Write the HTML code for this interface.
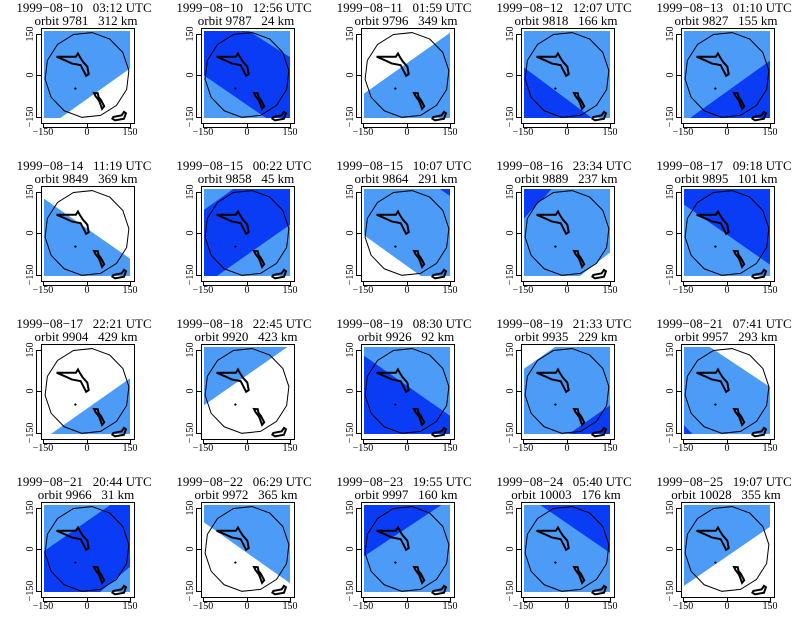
<!DOCTYPE html>
<html><head><meta charset="utf-8"><style>
html,body{margin:0;padding:0;background:#fff;}
svg text{font-family:"Liberation Serif",serif;fill:#000;white-space:pre;}
.t{font-size:13px;}
.k{font-size:10px;}
</style></head><body>
<svg width="800" height="627" viewBox="0 0 800 627" xmlns="http://www.w3.org/2000/svg">
<defs>
<g id="map">
<polygon points="56,1.8 76.5,9.3 91.7,24.8 98.7,45.5 96.1,67.2 84.3,85.5 65.7,97 44,99.2 23.5,91.7 8.3,76.2 1.3,55.5 3.9,33.8 15.7,15.5 34.3,4" fill="none" stroke="#000" stroke-width="1" vector-effect="non-scaling-stroke"/>
<polygon points="14.7,29.6 37,29.6 39.5,25.8 41.5,29.5 45,35 50.4,41 52,49.6 49,51.5 42.6,39.2 32.2,37.3 24,33.5" fill="none" stroke="#000" stroke-width="2" vector-effect="non-scaling-stroke"/>
<polygon points="58.1,71.2 62.5,71.5 63.5,76 66,79 70,86.5 67.5,89.5 65.5,84 64,80 60,75" fill="none" stroke="#000" stroke-width="2" vector-effect="non-scaling-stroke"/>
<polygon points="80.6,98.8 90.3,96.9 93,93 95.3,94.6 93,100.8 82.6,102.7 79.5,100.8" fill="none" stroke="#000" stroke-width="2" vector-effect="non-scaling-stroke"/>
<path d="M35,66.2 H38 M36.4,64.8 V67.6" stroke="#000" stroke-width="1" vector-effect="non-scaling-stroke"/>
</g>
<g id="ax">
<rect x="41.5" y="28.5" width="93" height="95" fill="none" stroke="#000" stroke-width="1"/>
<path d="M43.5,123 V128 M87.5,123 V128 M130.5,123 V128 M43.5,127.5 H130.5 M41,34.5 H36 M41,75.5 H36 M41,117.5 H36 M36.5,34.5 V117.5" stroke="#000" stroke-width="1" fill="none"/>
<text class="k" x="43" y="135" text-anchor="middle">−150</text>
<text class="k" x="87" y="135" text-anchor="middle">0</text>
<text class="k" x="130" y="135" text-anchor="middle">150</text>
<text class="k" transform="translate(33,34) rotate(-90)" text-anchor="middle">150</text>
<text class="k" transform="translate(33,75) rotate(-90)" text-anchor="middle">0</text>
<text class="k" transform="translate(33,117) rotate(-90)" text-anchor="middle">−150</text>
</g>
</defs>
<style>.L{fill:#4b9bf7}.D{fill:#0a3cf5}.W{fill:#fff}</style>

<!-- Row 1 -->
<g transform="translate(0,0)"><text class="t" x="84" y="12" text-anchor="middle">1999−08−10   03:12 UTC</text><text class="t" x="86" y="25" text-anchor="middle">orbit 9781   312 km</text>
<svg x="44" y="31" width="86" height="87" viewBox="0 0 100 100" preserveAspectRatio="none" overflow="visible"><rect class="L" width="100" height="100"/><polygon class="W" points="19,100 100,43 100,100"/><use href="#map"/></svg><use href="#ax"/></g>
<g transform="translate(160,0)"><text class="t" x="84" y="12" text-anchor="middle">1999−08−10   12:56 UTC</text><text class="t" x="86" y="25" text-anchor="middle">orbit 9787   24 km</text>
<svg x="44" y="31" width="86" height="87" viewBox="0 0 100 100" preserveAspectRatio="none" overflow="visible"><rect class="D" width="100" height="100"/><polygon class="L" points="52,0 100,0 100,30"/><polygon class="L" points="0,51 72,100 0,100"/><use href="#map"/></svg><use href="#ax"/></g>
<g transform="translate(320,0)"><text class="t" x="84" y="12" text-anchor="middle">1999−08−11   01:59 UTC</text><text class="t" x="86" y="25" text-anchor="middle">orbit 9796   349 km</text>
<svg x="44" y="31" width="86" height="87" viewBox="0 0 100 100" preserveAspectRatio="none" overflow="visible"><rect class="L" width="100" height="100"/><polygon class="W" points="0,0 100,0 100,2 0,72"/><use href="#map"/></svg><use href="#ax"/></g>
<g transform="translate(480,0)"><text class="t" x="84" y="12" text-anchor="middle">1999−08−12   12:07 UTC</text><text class="t" x="86" y="25" text-anchor="middle">orbit 9818   166 km</text>
<svg x="44" y="31" width="86" height="87" viewBox="0 0 100 100" preserveAspectRatio="none" overflow="visible"><rect class="L" width="100" height="100"/><polygon class="D" points="0,42 79,100 0,100"/><use href="#map"/></svg><use href="#ax"/></g>
<g transform="translate(640,0)"><text class="t" x="84" y="12" text-anchor="middle">1999−08−13   01:10 UTC</text><text class="t" x="86" y="25" text-anchor="middle">orbit 9827   155 km</text>
<svg x="44" y="31" width="86" height="87" viewBox="0 0 100 100" preserveAspectRatio="none" overflow="visible"><rect class="L" width="100" height="100"/><polygon class="D" points="7,100 100,34 100,100"/><use href="#map"/></svg><use href="#ax"/></g>

<!-- Row 2 -->
<g transform="translate(0,158)"><text class="t" x="84" y="12" text-anchor="middle">1999−08−14   11:19 UTC</text><text class="t" x="86" y="25" text-anchor="middle">orbit 9849   369 km</text>
<svg x="44" y="31" width="86" height="87" viewBox="0 0 100 100" preserveAspectRatio="none" overflow="visible"><rect class="W" width="100" height="100"/><polygon class="L" points="0,11 100,80 100,100 0,100"/><use href="#map"/></svg><use href="#ax"/></g>
<g transform="translate(160,158)"><text class="t" x="84" y="12" text-anchor="middle">1999−08−15   00:22 UTC</text><text class="t" x="86" y="25" text-anchor="middle">orbit 9858   45 km</text>
<svg x="44" y="31" width="86" height="87" viewBox="0 0 100 100" preserveAspectRatio="none" overflow="visible"><rect class="D" width="100" height="100"/><polygon class="L" points="0,0 34,0 0,24"/><polygon class="L" points="15,100 100,41 100,100"/><use href="#map"/></svg><use href="#ax"/></g>
<g transform="translate(320,158)"><text class="t" x="84" y="12" text-anchor="middle">1999−08−15   10:07 UTC</text><text class="t" x="86" y="25" text-anchor="middle">orbit 9864   291 km</text>
<svg x="44" y="31" width="86" height="87" viewBox="0 0 100 100" preserveAspectRatio="none" overflow="visible"><rect class="L" width="100" height="100"/><polygon class="W" points="0,53 66,100 0,100"/><polygon class="D" points="88,0 100,0 100,8"/><use href="#map"/></svg><use href="#ax"/></g>
<g transform="translate(480,158)"><text class="t" x="84" y="12" text-anchor="middle">1999−08−16   23:34 UTC</text><text class="t" x="86" y="25" text-anchor="middle">orbit 9889   237 km</text>
<svg x="44" y="31" width="86" height="87" viewBox="0 0 100 100" preserveAspectRatio="none" overflow="visible"><rect class="L" width="100" height="100"/><polygon class="D" points="0,0 32,0 25,8 8,25 0,34"/><polygon class="W" points="65,100 100,73 100,100"/><use href="#map"/></svg><use href="#ax"/></g>
<g transform="translate(640,158)"><text class="t" x="84" y="12" text-anchor="middle">1999−08−17   09:18 UTC</text><text class="t" x="86" y="25" text-anchor="middle">orbit 9895   101 km</text>
<svg x="44" y="31" width="86" height="87" viewBox="0 0 100 100" preserveAspectRatio="none" overflow="visible"><rect class="D" width="100" height="100"/><polygon class="L" points="0,18 100,87 100,100 0,100"/><use href="#map"/></svg><use href="#ax"/></g>

<!-- Row 3 -->
<g transform="translate(0,316)"><text class="t" x="84" y="12" text-anchor="middle">1999−08−17   22:21 UTC</text><text class="t" x="86" y="25" text-anchor="middle">orbit 9904   429 km</text>
<svg x="44" y="31" width="86" height="87" viewBox="0 0 100 100" preserveAspectRatio="none" overflow="visible"><rect class="W" width="100" height="100"/><polygon class="L" points="8,100 100,36 100,100"/><use href="#map"/></svg><use href="#ax"/></g>
<g transform="translate(160,316)"><text class="t" x="84" y="12" text-anchor="middle">1999−08−18   22:45 UTC</text><text class="t" x="86" y="25" text-anchor="middle">orbit 9920   423 km</text>
<svg x="44" y="31" width="86" height="87" viewBox="0 0 100 100" preserveAspectRatio="none" overflow="visible"><rect class="W" width="100" height="100"/><polygon class="L" points="0,0 97,0 0,67"/><use href="#map"/></svg><use href="#ax"/></g>
<g transform="translate(320,316)"><text class="t" x="84" y="12" text-anchor="middle">1999−08−19   08:30 UTC</text><text class="t" x="86" y="25" text-anchor="middle">orbit 9926   92 km</text>
<svg x="44" y="31" width="86" height="87" viewBox="0 0 100 100" preserveAspectRatio="none" overflow="visible"><rect class="L" width="100" height="100"/><polygon class="D" points="0,10 100,79 100,100 0,100"/><use href="#map"/></svg><use href="#ax"/></g>
<g transform="translate(480,316)"><text class="t" x="84" y="12" text-anchor="middle">1999−08−19   21:33 UTC</text><text class="t" x="86" y="25" text-anchor="middle">orbit 9935   229 km</text>
<svg x="44" y="31" width="86" height="87" viewBox="0 0 100 100" preserveAspectRatio="none" overflow="visible"><rect class="L" width="100" height="100"/><polygon class="W" points="0,0 36,0 0,25"/><polygon class="D" points="52,100 100,67 100,100"/><use href="#map"/></svg><use href="#ax"/></g>
<g transform="translate(640,316)"><text class="t" x="84" y="12" text-anchor="middle">1999−08−21   07:41 UTC</text><text class="t" x="86" y="25" text-anchor="middle">orbit 9957   293 km</text>
<svg x="44" y="31" width="86" height="87" viewBox="0 0 100 100" preserveAspectRatio="none" overflow="visible"><rect class="L" width="100" height="100"/><polygon class="W" points="30,0 100,0 100,46"/><polygon class="D" points="0,90 10,100 0,100"/><use href="#map"/></svg><use href="#ax"/></g>

<!-- Row 4 -->
<g transform="translate(0,474)"><text class="t" x="84" y="12" text-anchor="middle">1999−08−21   20:44 UTC</text><text class="t" x="86" y="25" text-anchor="middle">orbit 9966   31 km</text>
<svg x="44" y="31" width="86" height="87" viewBox="0 0 100 100" preserveAspectRatio="none" overflow="visible"><rect class="D" width="100" height="100"/><polygon class="L" points="0,0 77,0 0,53"/><polygon class="L" points="65,100 100,71 100,100"/><use href="#map"/></svg><use href="#ax"/></g>
<g transform="translate(160,474)"><text class="t" x="84" y="12" text-anchor="middle">1999−08−22   06:29 UTC</text><text class="t" x="86" y="25" text-anchor="middle">orbit 9972   365 km</text>
<svg x="44" y="31" width="86" height="87" viewBox="0 0 100 100" preserveAspectRatio="none" overflow="visible"><rect class="L" width="100" height="100"/><polygon class="W" points="0,20 100,90 100,100 0,100"/><use href="#map"/></svg><use href="#ax"/></g>
<g transform="translate(320,474)"><text class="t" x="84" y="12" text-anchor="middle">1999−08−23   19:55 UTC</text><text class="t" x="86" y="25" text-anchor="middle">orbit 9997   160 km</text>
<svg x="44" y="31" width="86" height="87" viewBox="0 0 100 100" preserveAspectRatio="none" overflow="visible"><rect class="L" width="100" height="100"/><polygon class="D" points="0,0 90,0 0,59"/><use href="#map"/></svg><use href="#ax"/></g>
<g transform="translate(480,474)"><text class="t" x="84" y="12" text-anchor="middle">1999−08−24   05:40 UTC</text><text class="t" x="86" y="25" text-anchor="middle">orbit 10003   176 km</text>
<svg x="44" y="31" width="86" height="87" viewBox="0 0 100 100" preserveAspectRatio="none" overflow="visible"><rect class="L" width="100" height="100"/><polygon class="D" points="19,0 100,0 100,55"/><use href="#map"/></svg><use href="#ax"/></g>
<g transform="translate(640,474)"><text class="t" x="84" y="12" text-anchor="middle">1999−08−25   19:07 UTC</text><text class="t" x="86" y="25" text-anchor="middle">orbit 10028   355 km</text>
<svg x="44" y="31" width="86" height="87" viewBox="0 0 100 100" preserveAspectRatio="none" overflow="visible"><rect class="L" width="100" height="100"/><polygon class="W" points="0,93 100,25 100,100 0,100"/><use href="#map"/></svg><use href="#ax"/></g>
</svg>
</body></html>
